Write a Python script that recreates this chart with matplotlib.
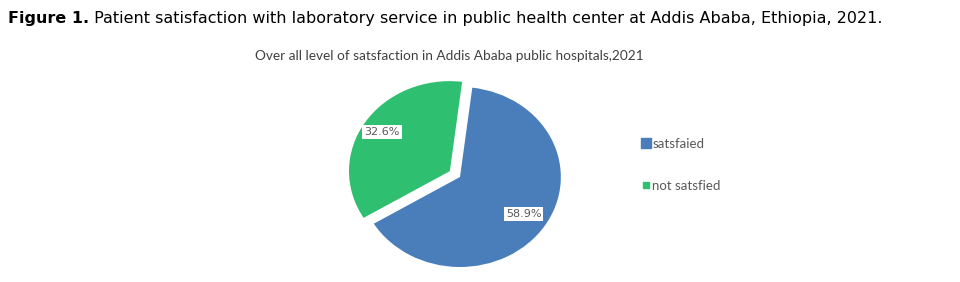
import matplotlib
matplotlib.use('Agg')
import matplotlib.pyplot as plt
from matplotlib.lines import Line2D
import numpy as np

# data
labels = ['satsfaied', 'not satsfied']
values = [58.9, 32.6]
colors = ['#4a7ebb', '#2fbf71']
explode = [0.0, 0.12]

caption_bold = 'Figure 1.'
caption_rest = ' Patient satisfaction with laboratory service in public health center at Addis Ababa, Ethiopia, 2021.'
chart_title = 'Over all level of satsfaction in Addis Ababa public hospitals,2021'

fig = plt.figure(figsize=(9.6, 2.82), dpi=100)

# caption on top
t1 = fig.text(8 / 960, 1 - 23.5 / 282, caption_bold, fontsize=11.5, fontweight='bold',
              family='DejaVu Sans', color='black', va='baseline')
fig.canvas.draw()
bb = t1.get_window_extent()
fig.text(bb.x1 / 960, 1 - 23.5 / 282, caption_rest, fontsize=11.5,
         family='DejaVu Sans', color='black', va='baseline')

fig.text(449 / 960, 1 - 60 / 282, chart_title, fontsize=9.8, family='Lato',
         color='#404040', ha='center', va='baseline')

# pie axes (slightly stretched horizontally like the original)
ax = fig.add_axes([339 / 960, -3 / 282, 242 / 960, 216 / 282])
wedges, texts, autotexts = ax.pie(values, colors=colors, explode=explode, startangle=83,
                                  counterclock=False, autopct='%1.1f%%', pctdistance=0.75,
                                  textprops=dict(fontsize=8, color='#595959', family='DejaVu Sans'))
ax.set_aspect('auto')
ax.set_xlim(-1.2, 1.2)
ax.set_ylim(-1.2, 1.2)
ax.axis('off')

pct_r = [0.75, 0.80]
for w, t, v, e, r in zip(wedges, autotexts, values, explode, pct_r):
    w.set_clip_on(False)
    ang = np.deg2rad((w.theta1 + w.theta2) / 2)
    t.set_position(((r + e) * np.cos(ang), (r + e) * np.sin(ang)))
    t.set_text(f'{v}%')
    t.set_bbox(dict(facecolor='white', edgecolor='none', pad=1.5))

handles = [Line2D([], [], marker='s', linestyle='none', markersize=7, color=colors[0]),
           Line2D([], [], marker='s', linestyle='none', markersize=5, color=colors[1])]
leg = fig.legend(handles, labels, loc='upper left', bbox_to_anchor=(630 / 960, 1 - 126 / 282),
                 frameon=False, handlelength=0.7, handletextpad=0.1, labelspacing=2.25,
                 prop=dict(family='Lato', size=9.5))
for txt in leg.get_texts():
    txt.set_color('#595959')

fig.savefig('out.png', dpi=100)
